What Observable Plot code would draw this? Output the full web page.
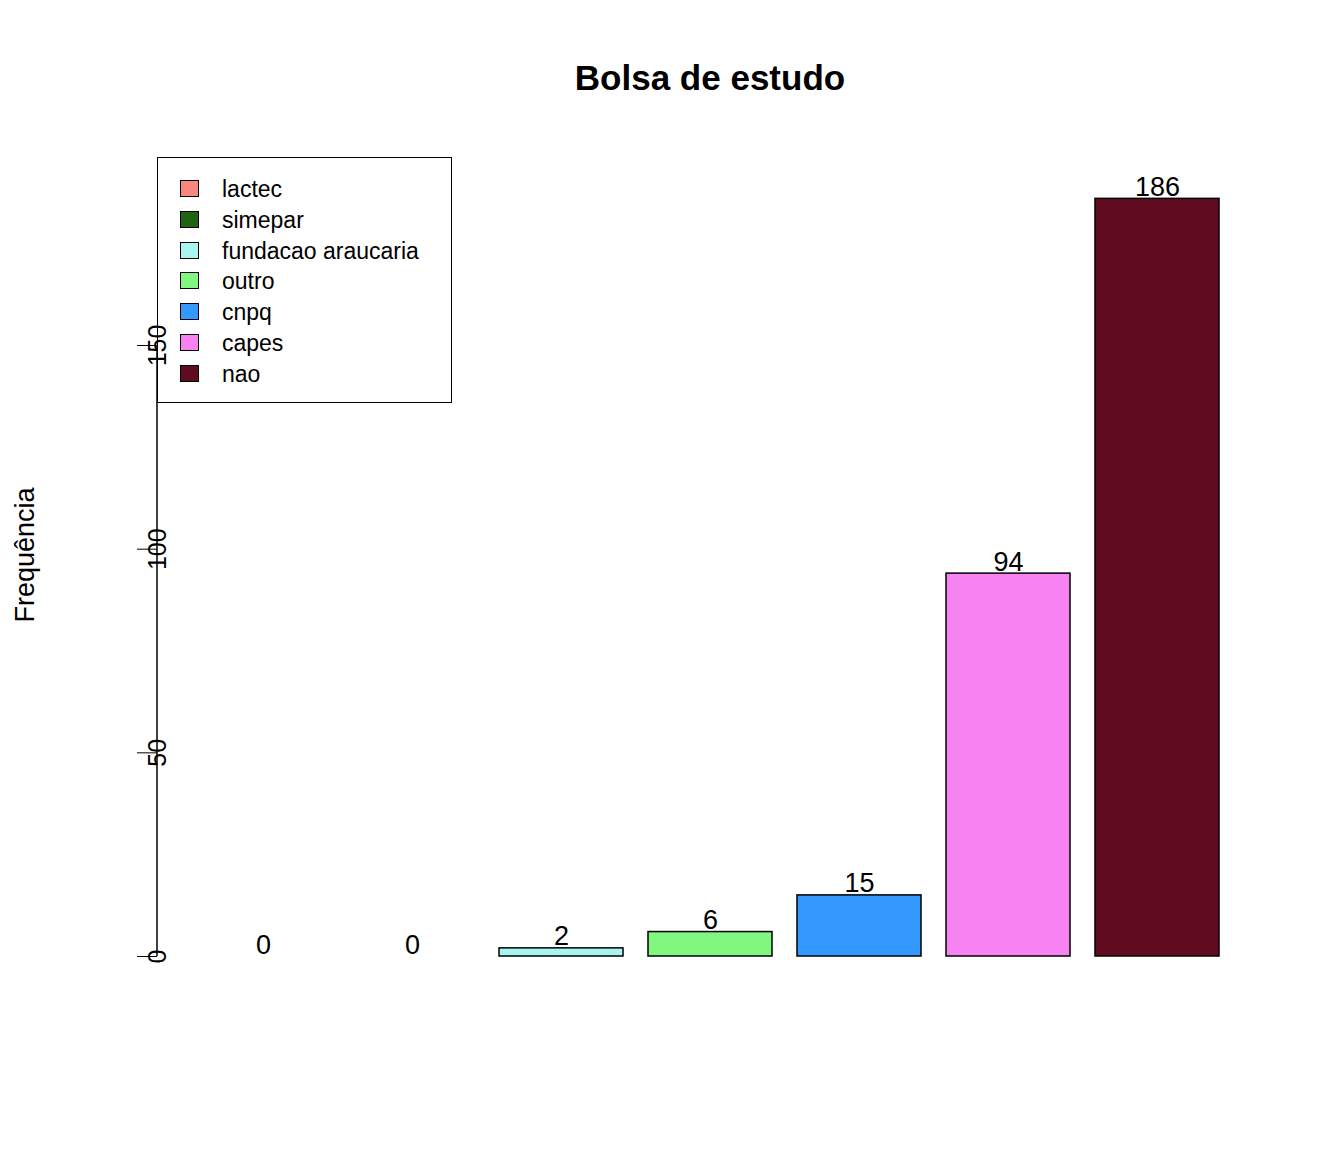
<!DOCTYPE html>
<html><head><meta charset="utf-8">
<script src="https://cdn.jsdelivr.net/npm/d3@7"></script>
<script src="https://cdn.jsdelivr.net/npm/@observablehq/plot@0.6"></script>
<style>
body{margin:0;background:#fff;font-family:"Liberation Sans",Arial,sans-serif}
#wrap{position:relative;width:1344px;height:1152px}
#title{position:absolute;top:58px;left:0;width:1420px;text-align:center;font-weight:bold;font-size:35px}
#ylab{position:absolute;left:25px;top:555px;transform:translate(-50%,-50%) rotate(-90deg);font-size:27px;white-space:nowrap}
#legend{position:absolute;left:157px;top:157px;width:293px;height:244px;border:1.5px solid #000;box-sizing:content-box}
.row{position:absolute;left:22px;height:20px;font-size:23px;line-height:20px}
.sw{position:absolute;left:0;top:1px;width:17px;height:15px;border:1px solid #000}
.lb{position:absolute;left:42px;top:0;white-space:nowrap}
</style></head>
<body><div id="wrap"><div id="title">Bolsa de estudo</div><div id="ylab">Frequência</div><div id="legend"></div></div>
<script>
const categorias = ["lactec","simepar","fundacao araucaria","outro","cnpq","capes","nao"];
const frequencias = [0,0,2,6,15,94,186];
const cores = ["#F8877F","#1F6410","#A8F4F0","#80F880","#3399FF","#F683F1","#600B20"];
const yTicks = [0,50,100,150];

const data = categorias.map((c,i)=>({cat:c, n:frequencias[i], cor:cores[i]}));

const chart = Plot.plot({
  width:1344, height:1152,
  marginLeft:157, marginRight:81, marginTop:100, marginBottom:196,
  style:{fontFamily:"Liberation Sans, Arial, sans-serif", fontSize:"24px", color:"#000"},
  x:{type:"band", domain:categorias, paddingInner:1/6, paddingOuter:0.2733, axis:null},
  y:{domain:[0,210.15], axis:null},
  marks:[
    Plot.barY(data,{x:"cat", y:"n", fill:"cor", stroke:"#000", strokeWidth:1.5}),
    Plot.text(data,{x:"cat", y:"n", text:d=>String(d.n), lineAnchor:"bottom", dy:-3, fontSize:27, fill:"#000"}),
    Plot.axisY({ticks:yTicks, tickSize:20, tickPadding:-28, tickRotate:-90, fontSize:25, tickFormat:d=>String(d), label:null})
  ]
});
// vertical axis line between 0 and 150
const y = chart.scale("y");
d3.select(chart).append("line")
  .attr("x1",157).attr("x2",157)
  .attr("y1",y.apply(0)).attr("y2",y.apply(150))
  .attr("stroke","#000").attr("stroke-width",1.5);
document.getElementById("wrap").prepend(chart);
chart.style.position="absolute"; chart.style.left="0"; chart.style.top="0";

const leg = document.getElementById("legend");
categorias.forEach((c,i)=>{
  const r=document.createElement("div"); r.className="row"; r.style.top=(21+i*30.8)+"px";
  r.innerHTML=`<div class="sw" style="background:${cores[i]}"></div><div class="lb">${c}</div>`;
  leg.appendChild(r);
});
</script></body></html>
